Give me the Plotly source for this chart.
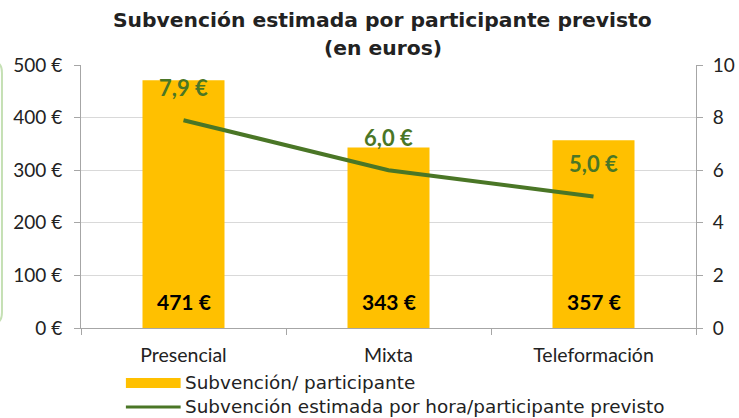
import plotly.graph_objects as go

categorias = ["Presencial", "Mixta", "Teleformación"]
subvencion_participante = [471, 343, 357]
subvencion_hora = [7.9, 6.0, 5.0]
etiquetas_barras = ["471 €", "343 €", "357 €"]
etiquetas_linea = ["7,9 €", "6,0 €", "5,0 €"]
ticks_izq = [0, 100, 200, 300, 400, 500]
ticks_izq_texto = ["0 €", "100 €", "200 €", "300 €", "400 €", "500 €"]
nombres_series = ["Subvención/ participante", "Subvención estimada por hora/participante previsto"]

verde = "#4A7626"
oro = "#FFC000"
texto = "#222222"

fig = go.Figure()
fig.add_trace(go.Bar(
    x=categorias, y=subvencion_participante, name=nombres_series[0],
    marker=dict(color=oro, line=dict(width=0)), width=0.4,
))
fig.add_trace(go.Scatter(
    x=categorias, y=subvencion_hora, name=nombres_series[1],
    mode="lines", line=dict(color=verde, width=4), yaxis="y2",
))

# etiquetas de datos
for cat, txt in zip(categorias, etiquetas_barras):
    fig.add_annotation(x=cat, y=0, text="<b>" + txt + "</b>", showarrow=False,
                       yshift=27, font=dict(family="Lato", size=21, color="black"))
for cat, val, txt in zip(categorias, subvencion_hora, etiquetas_linea):
    fig.add_annotation(x=cat, y=val, yref="y2", text="<b>" + txt + "</b>", showarrow=False,
                       yshift=33, font=dict(family="Lato", size=22, color=verde))

# titulo (dos lineas)
fig.add_annotation(xref="paper", yref="paper", x=0.491, y=1.171, showarrow=False,
                   xanchor="center", yanchor="middle",
                   text="<b>Subvención estimada por participante previsto</b>",
                   font=dict(family="DejaVu Sans", size=20.3, color=texto))
fig.add_annotation(xref="paper", yref="paper", x=0.491, y=1.065, showarrow=False,
                   xanchor="center", yanchor="middle",
                   text="<b>(en euros)</b>",
                   font=dict(family="DejaVu Sans", size=20.3, color=texto))

# leyenda dibujada a mano
fig.add_shape(type="rect", xref="paper", yref="paper", x0=0.073, x1=0.162,
              y0=-0.190, y1=-0.228, fillcolor=oro, line=dict(width=0))
fig.add_shape(type="line", xref="paper", yref="paper", x0=0.073, x1=0.162,
              y0=-0.300, y1=-0.300, line=dict(color=verde, width=3))
fig.add_annotation(xref="paper", yref="paper", x=0.166, y=-0.209, xanchor="left",
                   yanchor="middle", showarrow=False, text=nombres_series[0],
                   font=dict(family="DejaVu Sans", size=18.4, color=texto))
fig.add_annotation(xref="paper", yref="paper", x=0.166, y=-0.300, xanchor="left",
                   yanchor="middle", showarrow=False, text=nombres_series[1],
                   font=dict(family="DejaVu Sans", size=18.4, color=texto))

# borde verde a la izquierda
fig.add_shape(type="path", xref="paper", yref="paper",
              path="M -0.14,1.01 Q -0.1285,1.01 -0.1285,0.97 L -0.1285,0.06 Q -0.1285,0.02 -0.14,0.02",
              line=dict(color="#C5E0B4", width=2))

fig.update_layout(
    width=739, height=418,
    margin=dict(l=81, r=43, t=65, b=90),
    paper_bgcolor="white", plot_bgcolor="white",
    font=dict(family="Lato", size=18, color=texto),
    showlegend=False,
    xaxis=dict(showline=True, linecolor="#A6A6A6", linewidth=1, ticks="outside",
               tickson="boundaries", ticklen=6, tickcolor="#A6A6A6",
               tickfont=dict(size=19.5), ticklabelstandoff=10, automargin=False),
    yaxis=dict(range=[0, 500], tickvals=ticks_izq, ticktext=ticks_izq_texto,
               showline=True, linecolor="#A6A6A6", ticks="outside", ticklen=6,
               tickcolor="#A6A6A6", showgrid=True, gridcolor="#D9D9D9",
               tickfont=dict(size=19), zeroline=False, ticklabelstandoff=8,
               automargin=False),
    yaxis2=dict(range=[0, 10], dtick=2, overlaying="y", side="right",
                showline=True, linecolor="#A6A6A6", ticks="outside", ticklen=6,
                tickcolor="#A6A6A6", showgrid=False, tickfont=dict(size=19),
                zeroline=False, ticklabelstandoff=6, automargin=False),
)

# quitar el margen por defecto del body para que la figura ocupe toda la ventana
fig.write_html("out.html", config={"displayModeBar": False},
               post_script="document.body.style.margin = '0';")
